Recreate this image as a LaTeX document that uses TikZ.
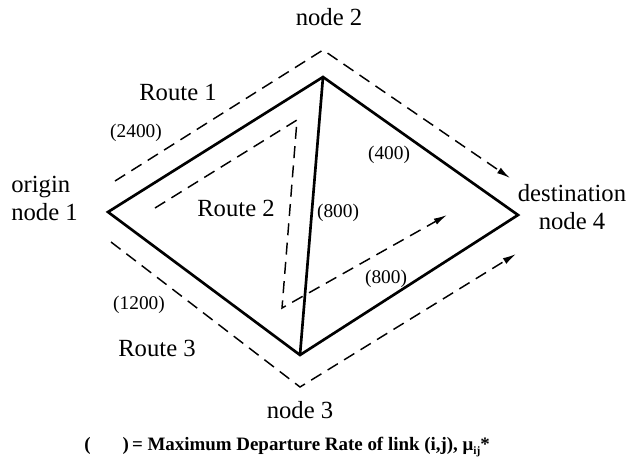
\documentclass[tikz,border=0pt]{standalone}
\usepackage{fontspec}
\setmainfont{Liberation Serif}
\usetikzlibrary{arrows.meta}
\begin{document}
\begin{tikzpicture}[x=0.75pt,y=-0.75pt,
  link/.style={line width=2pt,line join=miter},
  route/.style={line width=1.1pt,dash pattern=on 9pt off 5.5pt},
  routearrow/.style={route,-{Latex[length=10pt,width=5pt]}},
  big/.style={font=\fontsize{18.5}{21}\selectfont,inner sep=0pt},
  ratelbl/.style={font=\fontsize{14.5}{16}\selectfont,inner sep=0pt},
  captionlbl/.style={font=\bfseries\fontsize{14.2}{16}\selectfont,inner sep=0pt}]
\useasboundingbox (0,0) rectangle (641,472);
% network nodes
\coordinate (n1) at (108,212);
\coordinate (n2) at (323,77);
\coordinate (n3) at (300,355);
\coordinate (n4) at (518,215);
% links
\draw[link] (n1) -- (n2) -- (n4) -- (n3) -- cycle;
\draw[link] (n2) -- (n3);
% route 1
\coordinate (r1a) at (115,181);
\coordinate (r1b) at (323,50);
\coordinate (r1c) at (510,178);
\draw[routearrow] (r1a) -- (r1b) -- (r1c);
% route 2
\coordinate (r2a) at (155,208);
\coordinate (r2b) at (297,120);
\coordinate (r2c) at (282,308);
\coordinate (r2d) at (447,215);
\draw[routearrow] (r2a) -- (r2b) -- (r2c) -- (r2d);
% route 3
\coordinate (r3a) at (111,242);
\coordinate (r3b) at (300,387);
\coordinate (r3c) at (516,254);
\draw[routearrow] (r3a) -- (r3b) -- (r3c);
% labels
\node[big] (l2) at (329,17) {node 2};
\node[big] (lr1) at (178,92) {Route 1};
\node[ratelbl] (c2400) at (136,133) {(2400)};
\node[big,align=left,anchor=west] (l1) at (11,198) {origin\\node 1};
\node[big] (lr2) at (236,208) {Route 2};
\node[ratelbl] (c800a) at (338,213) {(800)};
\node[ratelbl] (c400) at (389,155) {(400)};
\node[big,align=center] (l4) at (572,207) {destination\\node 4};
\node[ratelbl] (c800b) at (386,279) {(800)};
\node[ratelbl] (c1200) at (139,305) {(1200)};
\node[big] (lr3) at (157,348) {Route 3};
\node[big] (l3) at (300,410) {node 3};
\node[captionlbl,anchor=west] (capt) at (84,447) {(\hspace{24pt})\,= Maximum Departure Rate of link (i,j), μ\raisebox{-0.5ex}{\fontsize{8.5}{9}\selectfont ij}*};
\end{tikzpicture}
\end{document}
